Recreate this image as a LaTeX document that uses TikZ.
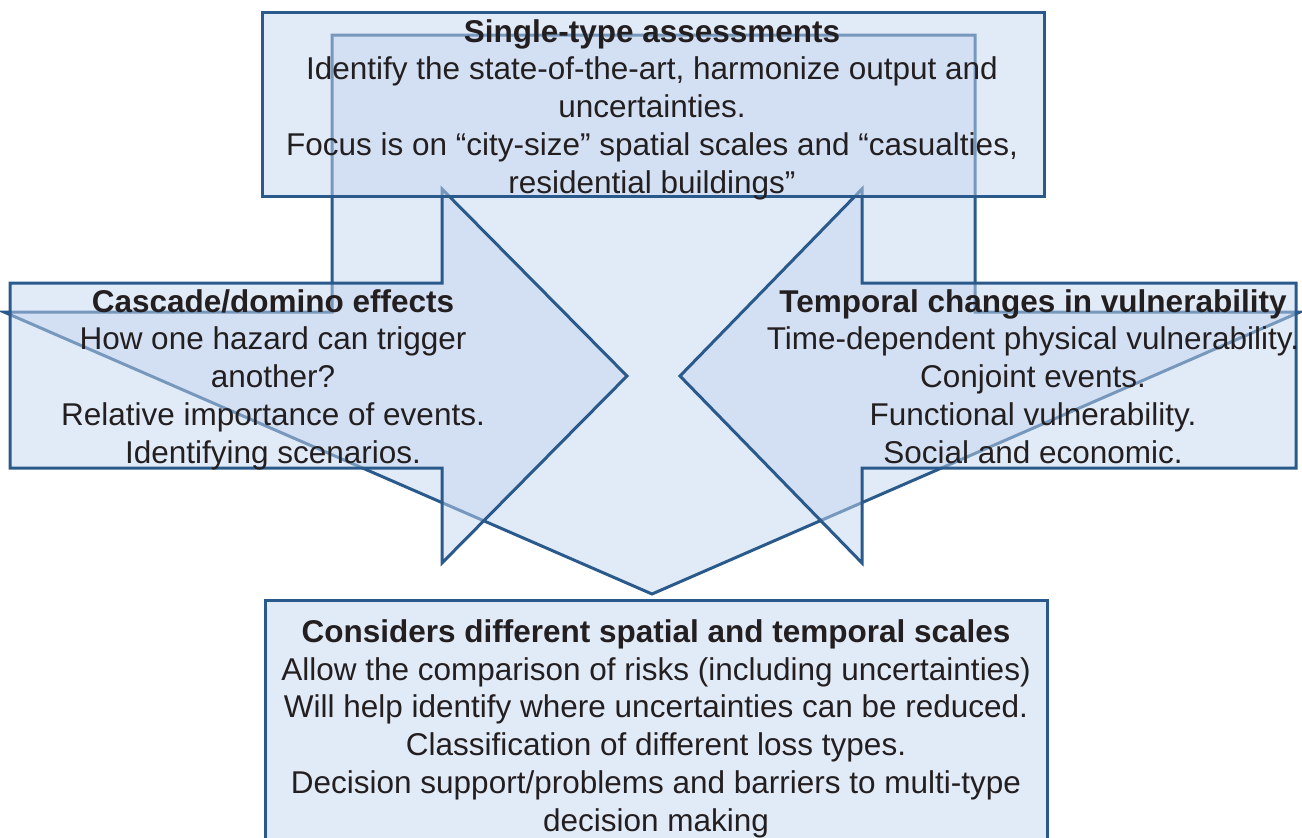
\documentclass[tikz,border=0pt]{standalone}
\usepackage{fontspec}
\setmainfont{Liberation Sans}
\definecolor{edge}{HTML}{2A5A8C}
\definecolor{panel}{HTML}{C4D6EF}
\definecolor{ink}{HTML}{231F20}
\begin{document}
\begin{tikzpicture}[x=1pt,y=-1pt,
  panelshape/.style={draw=edge, line width=3pt, fill=panel, fill opacity=0.5, line join=miter},
  txt/.style={text=ink, align=center, anchor=base, inner sep=0pt,
    font=\fontsize{31.5}{37.75}\selectfont}]
\useasboundingbox (0,0) rectangle (1302,838);
\clip (0,0) rectangle (1302,838);
% big down arrow (bottom layer)
\draw[panelshape] (332,35) -- (975,35) -- (975,312) -- (1300,312) -- (652,594)
  -- (4,312) -- (332,312) -- cycle;
% left arrow
\draw[panelshape] (10,283) -- (442,283) -- (442,189) -- (627,376) -- (442,563)
  -- (442,468) -- (10,468) -- cycle;
% right arrow
\draw[panelshape] (1296,283) -- (862,283) -- (862,189) -- (680,376) -- (862,563)
  -- (862,468) -- (1296,468) -- cycle;
% top box
\draw[panelshape] (262,12) rectangle (1044,196);
% bottom box
\draw[panelshape] (265,600) rectangle (1047,860);
% texts (anchor = baseline of the last line)
\node[txt] (ttop) at (652,193) {\textbf{Single-type assessments}\\Identify the state-of-the-art, harmonize output and\\uncertainties.\\Focus is on “city-size” spatial scales and “casualties,\\residential buildings”};
\node[txt] (tleft) at (273,463) {\textbf{Cascade/domino effects}\\How one hazard can trigger\\another?\\Relative importance of events.\\Identifying scenarios.};
\node[txt] (tright) at (1033,463) {\textbf{Temporal changes in vulnerability}\\Time-dependent physical vulnerability.\\Conjoint events.\\Functional vulnerability.\\Social and economic.};
\node[txt] (tbottom) at (656,831) {\textbf{Considers different spatial and temporal scales}\\Allow the comparison of risks (including uncertainties)\\Will help identify where uncertainties can be reduced.\\Classification of different loss types.\\Decision support/problems and barriers to multi-type\\decision making};
\end{tikzpicture}
\end{document}
